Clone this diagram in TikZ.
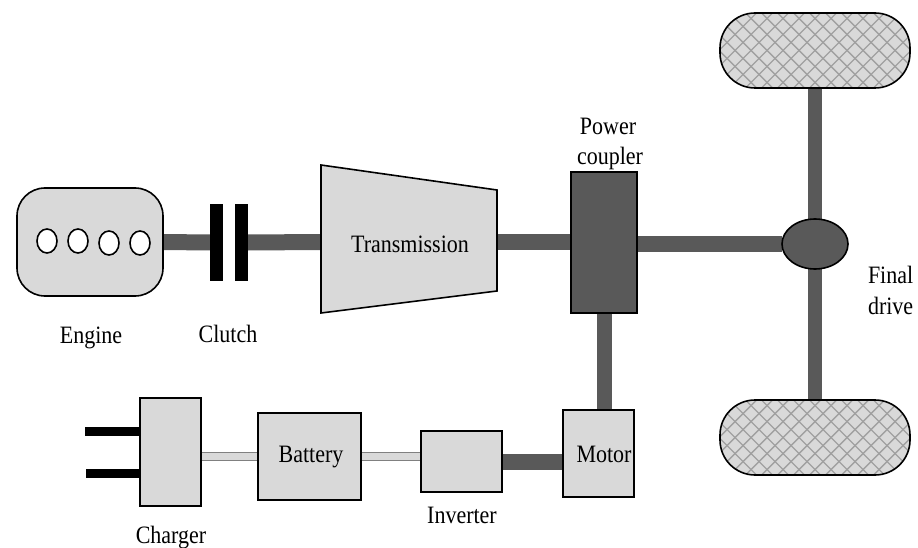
\documentclass[tikz,border=0pt]{standalone}
\usepackage{fontspec}
\setmainfont[FakeStretch=0.88]{Liberation Serif}
\usetikzlibrary{shapes.geometric,backgrounds}
\definecolor{partfill}{HTML}{D9D9D9}
\definecolor{shaftcol}{HTML}{595959}
\definecolor{hatchcol}{HTML}{A0A0A0}
\tikzset{
  x=1pt,y=-1pt,
  every node/.style={inner sep=0pt,outer sep=0pt,font=\fontsize{25}{29}\selectfont},
  part/.style={draw=black,line width=1.6pt,fill=partfill},
  cylhole/.style={ellipse,draw=black,line width=1.6pt,fill=white,minimum width=20pt,minimum height=24pt},
  shaft/.style={draw=shaftcol,line width=16pt},
  thinshaft/.style={draw=gray,line width=0.8pt,double=partfill,double distance=7pt},
  clutchbar/.style={fill=black,minimum width=13pt,minimum height=77pt},
  prong/.style={draw=black,line width=9pt},
  wheel/.style={part,rounded corners=35pt,minimum width=190pt,minimum height=75pt,
    path picture={
      \foreach \i in {-320,-304,...,320}{
        \draw[hatchcol,line width=1.4pt] (\i-60,-60)--(\i+60,60);
        \draw[hatchcol,line width=1.4pt] (\i-60,60)--(\i+60,-60);
      }}},
}
\begin{document}
\begin{tikzpicture}
\useasboundingbox (0,0) rectangle (918,548);
% engine
\node[part,rounded corners=28pt,minimum width=146pt,minimum height=108pt] (engine) at (90,242) {};
\node[cylhole] (c1) at (47,241) {};
\node[cylhole] (c2) at (78,241) {};
\node[cylhole] (c3) at (109,243) {};
\node[cylhole] (c4) at (140,243) {};
% clutch
\node[clutchbar] (cl1) at (216.5,242.5) {};
\node[clutchbar] (cl2) at (241.5,242.5) {};
% transmission
\draw[part,line join=miter] (321,165) -- (497,190) -- (497,291) -- (321,313) -- cycle;
\node[minimum width=176pt,minimum height=148pt] (trans) at (409,242) {};
\node (transtext) at (410,244) {Transmission};
% coupler
\node[part,fill=shaftcol,minimum width=66pt,minimum height=141pt] (coupler) at (604,242.5) {};
% final drive
\node[part,ellipse,fill=shaftcol,minimum width=66pt,minimum height=50pt] (final) at (815,244) {};
% wheels
\node[wheel] (wheeltop) at (815,50.5) {};
\node[wheel] (wheelbot) at (815,437.5) {};
% lower row
\node[part,minimum width=71pt,minimum height=87pt] (motor) at (598.5,453.5) {};
\node (motortext) at (604,454) {Motor};
\node[part,minimum width=81pt,minimum height=61pt] (inverter) at (461.5,461.5) {};
\node[part,minimum width=103pt,minimum height=87pt] (battery) at (309.5,456.5) {};
\node (batterytext) at (311,457) {Battery};
\node[part,minimum width=61pt,minimum height=108pt] (charger) at (170.5,452) {};
\coordinate (p1) at (85,431.5);
\coordinate (p2) at (86,473.5);
% labels
\node (lengine) at (91,337.5) {Engine};
\node (lclutch) at (228,334) {Clutch};
\node (lpower) at (608,126) {Power};
\node (lcoupler) at (610,158) {coupler};
\node[anchor=west] (lfinal) at (868,275) {Final};
\node[anchor=west] (ldrive) at (868,306) {drive};
\node (lcharger) at (171,538) {Charger};
\node (linverter) at (462,515) {Inverter};
% connectors
\begin{scope}[on background layer]
\draw[shaft] (engine.east) -- (cl1.west);
\draw[shaft] (cl2.east) -- (trans.west);
\draw[shaft] (trans.east) -- (trans.east -| coupler.west);
\draw[shaft] (final.west -| coupler.east) -- (final.west);
\draw[draw=shaftcol,line width=14pt] (final.north) -- (wheeltop.south);
\draw[draw=shaftcol,line width=14pt] (final.south) -- (wheelbot.north);
\draw[draw=shaftcol,line width=15pt] (coupler.south) -- (coupler.south |- motor.north);
\draw[shaft] (inverter.east) -- (inverter.east -| motor.west);
\draw[thinshaft] (charger.east |- battery.west) -- (battery.west);
\draw[thinshaft] (battery.east) -- (battery.east -| inverter.west);
\draw[prong] (p1) -- (p1 -| charger.west);
\draw[prong] (p2) -- (p2 -| charger.west);
\end{scope}
\end{tikzpicture}
\end{document}
